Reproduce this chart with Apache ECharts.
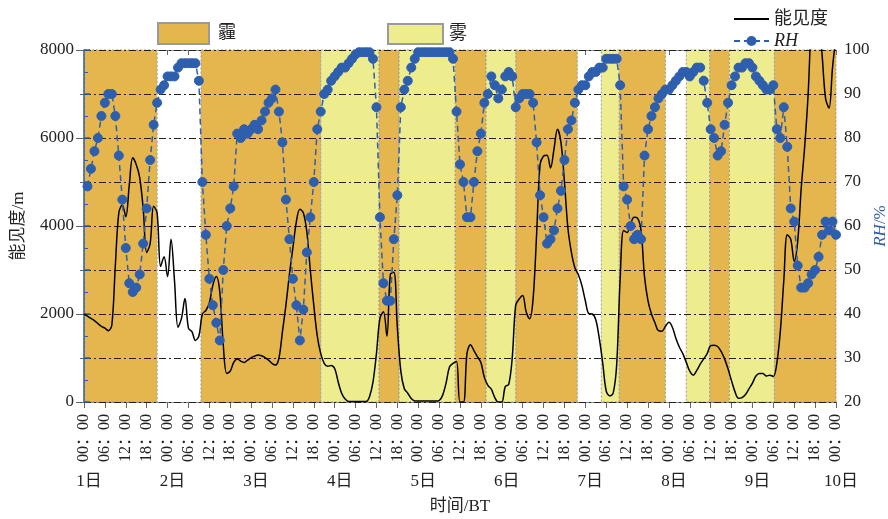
<!DOCTYPE html>
<html><head><meta charset="utf-8">
<script src="https://cdn.jsdelivr.net/npm/echarts@6/dist/echarts.min.js"></script>
<style>html,body{margin:0;padding:0;background:#fff}#c{width:888px;height:519px}</style>
</head><body><div id="c"></div>
<script>
// hours since day 1 00:00 (x axis 0..216)
const hazeBands = [[0,21],[33.6,68],[84.7,90.5],[106.6,115.5],[124,141.7],[153.7,167],[179.7,185.4],[198.3,216]];
const fogBands = [[68,84.7],[90.5,106.6],[115.5,124],[148.6,153.7],[173,179.7],[185.4,198.3]];
// visibility (m), hourly from hour 0
const visStartHour = 0;
const visValues = [
2000,1950,1900,1850,1780,1720,1680,1620,1750,3100,
4300,4480,4210,4930,5550,5400,5100,4400,3400,3600,
4450,4300,3080,3300,2850,3700,2750,1700,1900,2350,
1680,1600,1400,1500,2000,2080,2250,2650,2850,2500,
1300,650,700,900,980,930,900,950,1010,1040,
1070,1050,1010,950,880,840,1000,1600,2200,2900,
3500,4100,4380,4300,3870,3000,2200,1500,1100,880,
810,830,760,460,200,70,10,10,10,10,
10,10,120,450,1100,1900,2050,1500,2900,2950,
1700,700,300,200,80,25,20,20,20,20,
20,20,30,150,430,800,880,920,0,0,
1100,1300,1170,1030,900,560,380,290,100,0,
0,350,400,1000,2200,2340,2420,2050,1890,2350,
3800,5400,5590,5610,5320,5750,6200,5900,5000,3950,
3400,3050,2890,2650,2300,2010,2000,1870,1450,880,
250,140,200,840,2800,3900,3850,4050,4200,4180,
3900,2850,2300,2000,1800,1620,1610,1720,1810,1700,
1450,1250,1100,900,700,610,720,860,980,1100,
1280,1290,1260,1150,980,750,480,230,85,100,
170,300,430,590,650,650,590,610,580,880,
1600,2750,3800,3700,3200,3650,4850,5800,7000,8800,
9500,8800,7900,6900,6680,7600,8300
];
// RH (%), hourly from hour 1
const rhStartHour = 1;
const rhValues = [
69,73,77,80,85,88,90,90,85,76,
66,55,47,45,46,49,56,64,75,83,
88,91,92,94,94,94,96,97,97,97,
97,97,93,70,58,48,42,38,34,50,
60,64,69,81,80,82,81,82,83,82,
84,86,88,89,91,86,79,66,57,48,
42,34,41,54,62,70,82,86,90,91,
93,94,95,96,96,97,98,99,99.5,99.5,
99.5,99.5,98,87,62,47,43,43,57,67,
87,91,93,96,98,99.5,99.5,99.5,99.5,99.5,
99.5,99.5,99.5,99.5,99.5,98,86,74,70,62,
62,70,77,81,88,90,94,92,89,91,
94,95,94,87,89,90,90,90,88,79,
67,62,56,57,59,64,68,75,82,84,
88,91,92,92,94,95,95,96,96,98,
98,98,98,92,69,66,60,57,58,57,
76,82,85,87,89,90,91,91,92,93,
94,95,95,94,95,96,96,93,88,82,
80,76,77,83,88,92,94,96,96,97,
97,96,94,93,92,91,91,92,82,80,
87,78,64,61,51,46,46,47,49,50,
53,58,61,59,61,58
];
const dayLabels = ['1日','2日','3日','4日','5日','6日','7日','8日','9日','10日'];

const HAZE = '#E4B64D', FOG = '#EDEC8E', BLUE = '#2E5FAE';
const SERIF = "'Liberation Serif','Noto Sans CJK SC',serif";
const chart = echarts.init(document.getElementById('c'));

function bandRender(color){
  return function(params, api){
    const a = api.coord([api.value(0), 8000]);
    const b = api.coord([api.value(1), 0]);
    return {type:'rect', shape:{x:a[0], y:a[1], width:b[0]-a[0], height:b[1]-a[1]},
      style:{fill:color, stroke:'#9a9a9a', lineWidth:1, lineDash:[2,2]}};
  };
}

chart.setOption({
  animation:false,
  textStyle:{fontFamily:SERIF, color:'#222'},
  grid:{left:84, right:52, top:50, bottom:117, outerBoundsMode:'none', containLabel:false},
  legend:[
    {data:[{name:'霾', icon:'rect'}], left:152, top:17, itemWidth:51, itemHeight:21, itemGap:0,
     textStyle:{fontSize:18, fontFamily:SERIF, color:'#222', padding:[0,0,0,4]}},
    {data:[{name:'雾', icon:'rect'}], left:382, top:18, itemWidth:55, itemHeight:20, itemGap:0,
     textStyle:{fontSize:18, fontFamily:SERIF, color:'#222', padding:[0,0,0,1]}},
    {data:[{name:'能见度', itemStyle:{opacity:0}}, 'RH'], orient:'vertical', left:728, top:5, itemWidth:35, itemHeight:10, itemGap:4,
     formatter: n => n==='RH' ? '{i|RH}' : n,
     textStyle:{fontSize:18, fontFamily:SERIF, color:'#222', rich:{i:{fontStyle:'italic', fontSize:18, fontFamily:SERIF}}}}
  ],
  xAxis:[
    {type:'value', min:0, max:216, interval:6, position:'bottom',
     axisLine:{lineStyle:{color:'#888', width:1}},
     axisTick:{length:6, lineStyle:{color:'#666'}},
     splitLine:{show:false},
     axisLabel:{rotate:90, fontSize:16, color:'#222', fontFamily:SERIF, margin:12, hideOverlap:false,
       formatter: v => String(v%24).padStart(2,'0') + '：00'}},
    {type:'value', min:0, max:216, interval:6, position:'top',
     axisLine:{lineStyle:{color:'#888'}}, axisTick:{inside:true, length:5, lineStyle:{color:'#666'}},
     axisLabel:{show:false}, splitLine:{show:false}},
    {type:'value', min:0, max:216, interval:24, position:'bottom',
     axisLine:{show:false}, axisTick:{show:false}, splitLine:{show:false},
     axisLabel:{fontSize:17, color:'#222', fontFamily:SERIF, margin:71, padding:[0,0,0,10],
       formatter: v => dayLabels[Math.round(v/24)]},
     name:'时间/BT', nameLocation:'middle', nameGap:96, nameMoveOverlap:false,
     nameTextStyle:{fontSize:17, color:'#222', fontFamily:SERIF}}
  ],
  yAxis:[
    {type:'value', min:0, max:8000, interval:2000, position:'left',
     axisLine:{show:true, lineStyle:{color:'#888'}},
     axisTick:{show:true, length:8, lineStyle:{color:'#666'}},
     minorTick:{show:true, splitNumber:2, length:4, lineStyle:{color:'#666'}},
     splitLine:{show:false},
     axisLabel:{fontSize:17, color:'#222', fontFamily:SERIF, margin:10, formatter: v => String(v)},
     name:'能见度/m', nameLocation:'middle', nameGap:57, nameRotate:90, nameMoveOverlap:false,
     nameTextStyle:{fontSize:17, color:'#222', fontFamily:SERIF}},
    {type:'value', min:20, max:100, interval:10, position:'right', z:3,
     axisLine:{show:true, lineStyle:{color:BLUE, width:1.5}},
     axisTick:{show:true, length:6, lineStyle:{color:BLUE, width:1.5}},
     minorTick:{show:true, splitNumber:2, length:4, lineStyle:{color:BLUE}},
     splitLine:{show:true, lineStyle:{color:'#222', width:1, type:[7,3,2,3]}},
     axisLabel:{fontSize:17, color:'#222', fontFamily:SERIF, margin:8, formatter: v => String(v)},
     name:'{i|RH}/%', nameLocation:'middle', nameGap:36, nameRotate:90, nameMoveOverlap:false,
     nameTextStyle:{fontSize:17, color:BLUE, fontFamily:SERIF, rich:{i:{fontStyle:'italic', fontSize:17, color:BLUE, fontFamily:SERIF}}}}
  ],
  series:[
    {name:'霾', type:'custom', z:1, xAxisIndex:0, yAxisIndex:0, renderItem:bandRender(HAZE),
     itemStyle:{color:HAZE, borderColor:'#9a9a9a', borderType:'dotted', borderWidth:1},
     encode:{x:[0,1]}, data:hazeBands, silent:true},
    {name:'雾', type:'custom', z:1, xAxisIndex:0, yAxisIndex:0, renderItem:bandRender(FOG),
     itemStyle:{color:FOG, borderColor:'#9a9a9a', borderType:'dotted', borderWidth:1},
     encode:{x:[0,1]}, data:fogBands, silent:true},
    {name:'能见度', type:'line', z:4, xAxisIndex:0, yAxisIndex:0, smooth:0.35, symbol:'none', clip:true,
     lineStyle:{color:'#000', width:1.5}, itemStyle:{color:'#000'},
     data: visValues.map((v,i)=>[visStartHour+i, v])},
    {name:'RH', type:'line', z:5, xAxisIndex:0, yAxisIndex:1, symbol:'circle', symbolSize:9, clip:true,
     lineStyle:{color:BLUE, width:1.5, type:[6,4]},
     itemStyle:{color:BLUE, borderColor:BLUE, borderWidth:1},
     data: rhValues.map((v,i)=>[rhStartHour+i, v])}
  ]
});
</script></body></html>
